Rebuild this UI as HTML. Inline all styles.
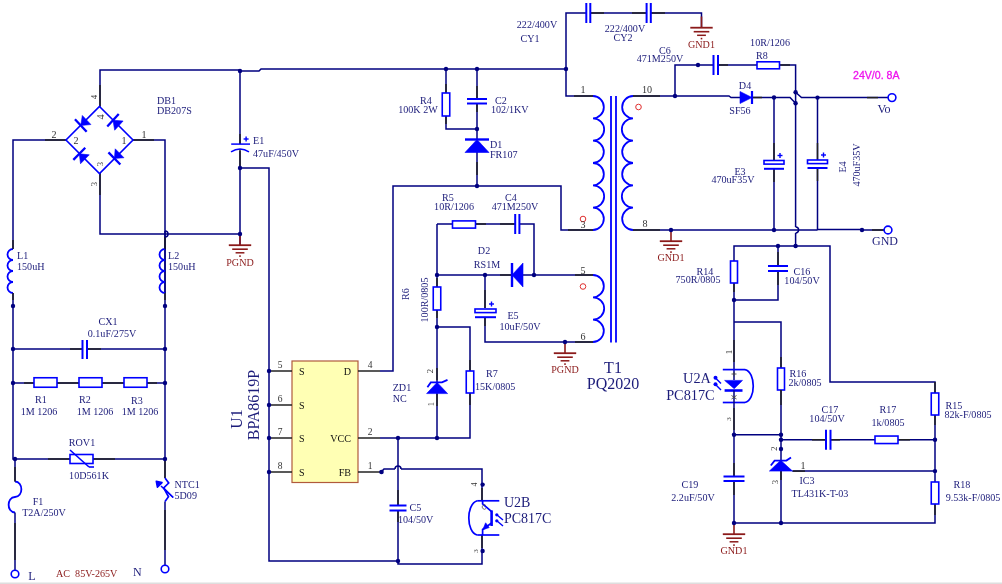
<!DOCTYPE html>
<html><head><meta charset="utf-8"><style>
html,body{margin:0;padding:0;background:#fff;width:1002px;height:584px;overflow:hidden}
svg{display:block;will-change:transform}
</style></head><body>
<svg width="1002" height="584" viewBox="0 0 1002 584">
<rect x="0" y="0" width="1002" height="584" fill="#fff"/>
<rect x="0" y="582.5" width="1002" height="1.5" fill="#dedede"/>
<polyline points="100,107 100,70 240,70 240,71 259,71 261,69 566,69" fill="none" stroke="#000080" stroke-width="1.5" stroke-linejoin="miter"/>
<line x1="100" y1="85" x2="100" y2="106" stroke="#222222" stroke-width="1.5" stroke-linecap="butt"/>
<polyline points="66,140 13,140 13,249" fill="none" stroke="#000080" stroke-width="1.5" stroke-linejoin="miter"/>
<line x1="45" y1="140" x2="66" y2="140" stroke="#222222" stroke-width="1.5" stroke-linecap="butt"/>
<polyline points="133,140 165,140 165,249" fill="none" stroke="#000080" stroke-width="1.5" stroke-linejoin="miter"/>
<line x1="133" y1="140" x2="154" y2="140" stroke="#222222" stroke-width="1.5" stroke-linecap="butt"/>
<polyline points="100,173 100,234 240,234" fill="none" stroke="#000080" stroke-width="1.5" stroke-linejoin="miter"/>
<line x1="100" y1="173" x2="100" y2="195" stroke="#222222" stroke-width="1.5" stroke-linecap="butt"/>
<polygon points="99.5,106.5 133,140 99.5,173.5 66,140" fill="none" stroke="#0000ff" stroke-width="1.6"/>
<polygon points="82.3,115.46 90.9,124.54 80.8,125.5" fill="#0000ff" stroke="#0000ff" stroke-width="0.6"/>
<line x1="74.95" y1="119.33" x2="86.65" y2="131.67" stroke="#0000ff" stroke-width="2.3" stroke-linecap="butt"/>
<polygon points="123.12,120.99 114.68,130.21 113,120.2" fill="#0000ff" stroke="#0000ff" stroke-width="0.6"/>
<line x1="118.74" y1="113.93" x2="107.26" y2="126.47" stroke="#0000ff" stroke-width="2.3" stroke-linecap="butt"/>
<polygon points="89.28,154.84 80.52,163.76 79.3,153.8" fill="#0000ff" stroke="#0000ff" stroke-width="0.6"/>
<line x1="85.26" y1="147.74" x2="73.34" y2="159.86" stroke="#0000ff" stroke-width="2.3" stroke-linecap="butt"/>
<polygon points="115.22,148.84 123.98,157.76 114.4,158.4" fill="#0000ff" stroke="#0000ff" stroke-width="0.6"/>
<line x1="108.45" y1="152.33" x2="120.35" y2="164.47" stroke="#0000ff" stroke-width="2.3" stroke-linecap="butt"/>
<polyline points="13,293 13,459 15,459 15,481.5" fill="none" stroke="#000080" stroke-width="1.5" stroke-linejoin="miter"/>
<path d="M13,249 A5.5,5.5 0 0 0 13,260 A5.5,5.5 0 0 0 13,271 A5.5,5.5 0 0 0 13,282 A5.5,5.5 0 0 0 13,293" fill="none" stroke="#0000ff" stroke-width="1.8"/>
<line x1="13" y1="240" x2="13" y2="249" stroke="#222222" stroke-width="1.5" stroke-linecap="butt"/>
<polyline points="165,293 165,231" fill="none" stroke="#000080" stroke-width="1.5" stroke-linejoin="miter"/>
<polyline points="165,237 165,478" fill="none" stroke="#000080" stroke-width="1.5" stroke-linejoin="miter"/>
<path d="M165,249 A5.5,5.5 0 0 0 165,260 A5.5,5.5 0 0 0 165,271 A5.5,5.5 0 0 0 165,282 A5.5,5.5 0 0 0 165,293" fill="none" stroke="#0000ff" stroke-width="1.8"/>
<line x1="165" y1="237" x2="165" y2="249" stroke="#222222" stroke-width="1.5" stroke-linecap="butt"/>
<path d="M165,231 A3,3 0 0 1 165,237" fill="none" stroke="#000080" stroke-width="1.5"/>
<line x1="13" y1="293" x2="13" y2="300" stroke="#222222" stroke-width="1.5" stroke-linecap="butt"/>
<line x1="165" y1="293" x2="165" y2="300" stroke="#222222" stroke-width="1.5" stroke-linecap="butt"/>
<polyline points="13,349 82,349" fill="none" stroke="#000080" stroke-width="1.5" stroke-linejoin="miter"/>
<polyline points="87,349 165,349" fill="none" stroke="#000080" stroke-width="1.5" stroke-linejoin="miter"/>
<line x1="70" y1="349" x2="82" y2="349" stroke="#222222" stroke-width="1.5" stroke-linecap="butt"/>
<line x1="87" y1="349" x2="101" y2="349" stroke="#222222" stroke-width="1.5" stroke-linecap="butt"/>
<line x1="82.5" y1="340" x2="82.5" y2="359" stroke="#0000ff" stroke-width="2" stroke-linecap="butt"/>
<line x1="87" y1="340" x2="87" y2="359" stroke="#0000ff" stroke-width="2" stroke-linecap="butt"/>
<polyline points="13,383 165,383" fill="none" stroke="#000080" stroke-width="1.5" stroke-linejoin="miter"/>
<line x1="24" y1="383" x2="34" y2="383" stroke="#222222" stroke-width="1.5" stroke-linecap="butt"/>
<line x1="57" y1="383" x2="79" y2="383" stroke="#222222" stroke-width="1.5" stroke-linecap="butt"/>
<line x1="102" y1="383" x2="124" y2="383" stroke="#222222" stroke-width="1.5" stroke-linecap="butt"/>
<line x1="147" y1="383" x2="157" y2="383" stroke="#222222" stroke-width="1.5" stroke-linecap="butt"/>
<rect x="34" y="377.75" width="23" height="9.5" fill="#fff" stroke="#0000ff" stroke-width="1.6"/>
<rect x="79" y="377.75" width="23" height="9.5" fill="#fff" stroke="#0000ff" stroke-width="1.6"/>
<rect x="124" y="377.75" width="23" height="9.5" fill="#fff" stroke="#0000ff" stroke-width="1.6"/>
<polyline points="15,459 165,459" fill="none" stroke="#000080" stroke-width="1.5" stroke-linejoin="miter"/>
<line x1="48" y1="459" x2="70" y2="459" stroke="#222222" stroke-width="1.5" stroke-linecap="butt"/>
<line x1="93" y1="459" x2="115" y2="459" stroke="#222222" stroke-width="1.5" stroke-linecap="butt"/>
<rect x="70" y="454.5" width="23" height="9" fill="#fff" stroke="#0000ff" stroke-width="1.6"/>
<line x1="70" y1="450" x2="89" y2="467" stroke="#0000ff" stroke-width="1.6" stroke-linecap="butt"/>
<line x1="89" y1="467" x2="94" y2="467" stroke="#0000ff" stroke-width="1.6" stroke-linecap="butt"/>
<path d="M15,481.5 C23.5,481.5 23.5,497 15,497 C6.5,497 6.5,512.5 15,512.5" fill="none" stroke="#0000ff" stroke-width="1.8"/>
<polyline points="15,512.5 15,570" fill="none" stroke="#000080" stroke-width="1.5" stroke-linejoin="miter"/>
<line x1="15" y1="523" x2="15" y2="560" stroke="#222222" stroke-width="1.5" stroke-linecap="butt"/>
<circle cx="15" cy="574" r="3.8" fill="#fff" stroke="#0000ff" stroke-width="1.6"/>
<line x1="15" y1="467" x2="15" y2="481.5" stroke="#222222" stroke-width="1.5" stroke-linecap="butt"/>
<polyline points="165,501.5 165,565" fill="none" stroke="#000080" stroke-width="1.5" stroke-linejoin="miter"/>
<line x1="165" y1="459" x2="165" y2="478" stroke="#222222" stroke-width="1.5" stroke-linecap="butt"/>
<line x1="165" y1="510" x2="165" y2="550" stroke="#222222" stroke-width="1.5" stroke-linecap="butt"/>
<polyline points="165,478 168.7,483 163.7,488 168.5,496.8 165,501.5" fill="none" stroke="#0000ff" stroke-width="1.7" stroke-linejoin="miter"/>
<line x1="163.7" y1="488" x2="173.2" y2="497.5" stroke="#0000ff" stroke-width="1.4" stroke-linecap="butt"/>
<line x1="173.2" y1="497.5" x2="161" y2="486" stroke="#0000ff" stroke-width="1.5" stroke-linecap="butt"/>
<polygon points="156.3,481.3 162,482.6 157.4,487.2" fill="#0000ff" stroke="#0000ff" stroke-width="1.6" stroke-linejoin="round"/>
<circle cx="165" cy="569" r="3.8" fill="#fff" stroke="#0000ff" stroke-width="1.6"/>
<polyline points="240,71 240,144" fill="none" stroke="#000080" stroke-width="1.5" stroke-linejoin="miter"/>
<polyline points="240,151 240,234 240,246" fill="none" stroke="#000080" stroke-width="1.5" stroke-linejoin="miter"/>
<polyline points="240,168 269,168 269,561 398,561" fill="none" stroke="#000080" stroke-width="1.5" stroke-linejoin="miter"/>
<line x1="240" y1="134" x2="240" y2="144" stroke="#222222" stroke-width="1.5" stroke-linecap="butt"/>
<line x1="240" y1="149" x2="240" y2="168" stroke="#222222" stroke-width="1.5" stroke-linecap="butt"/>
<line x1="231.2" y1="144.1" x2="250" y2="144.1" stroke="#0000ff" stroke-width="1.5" stroke-linecap="butt"/>
<path d="M231,151.8 Q240,146 249,151.8" fill="none" stroke="#0000ff" stroke-width="1.5"/>
<line x1="243.6" y1="139" x2="248.6" y2="139" stroke="#0000ff" stroke-width="1.4" stroke-linecap="butt"/>
<line x1="246.1" y1="136.5" x2="246.1" y2="141.5" stroke="#0000ff" stroke-width="1.4" stroke-linecap="butt"/>
<line x1="240" y1="234" x2="240" y2="245" stroke="#8b1a1a" stroke-width="1.6" stroke-linecap="butt"/>
<line x1="228.8" y1="245.2" x2="251.2" y2="245.2" stroke="#8b1a1a" stroke-width="1.8" stroke-linecap="butt"/>
<line x1="232.2" y1="249.2" x2="247.8" y2="249.2" stroke="#8b1a1a" stroke-width="1.6" stroke-linecap="butt"/>
<line x1="235.6" y1="252.8" x2="244.4" y2="252.8" stroke="#8b1a1a" stroke-width="1.5" stroke-linecap="butt"/>
<rect x="239.2" y="255.3" width="1.6" height="1.6" fill="#8b1a1a"/>
<rect x="292" y="361" width="66" height="121.5" fill="#ffffb4" stroke="#b05a3c" stroke-width="1.2"/>
<line x1="269" y1="371" x2="292" y2="371" stroke="#222222" stroke-width="1.5" stroke-linecap="butt"/>
<line x1="269" y1="405" x2="292" y2="405" stroke="#222222" stroke-width="1.5" stroke-linecap="butt"/>
<line x1="269" y1="438" x2="292" y2="438" stroke="#222222" stroke-width="1.5" stroke-linecap="butt"/>
<line x1="269" y1="472" x2="292" y2="472" stroke="#222222" stroke-width="1.5" stroke-linecap="butt"/>
<line x1="358" y1="371" x2="380" y2="371" stroke="#222222" stroke-width="1.5" stroke-linecap="butt"/>
<line x1="358" y1="438" x2="380" y2="438" stroke="#222222" stroke-width="1.5" stroke-linecap="butt"/>
<line x1="358" y1="472" x2="380" y2="472" stroke="#222222" stroke-width="1.5" stroke-linecap="butt"/>
<polyline points="380,371 393,371 393,186 561,186 561,230 593,230" fill="none" stroke="#000080" stroke-width="1.5" stroke-linejoin="miter"/>
<line x1="568" y1="230" x2="593" y2="230" stroke="#222222" stroke-width="1.5" stroke-linecap="butt"/>
<polyline points="380,438 470,438 470,393" fill="none" stroke="#000080" stroke-width="1.5" stroke-linejoin="miter"/>
<polyline points="470,371 470,327 437,327" fill="none" stroke="#000080" stroke-width="1.5" stroke-linejoin="miter"/>
<line x1="470" y1="393" x2="470" y2="405" stroke="#222222" stroke-width="1.5" stroke-linecap="butt"/>
<line x1="470" y1="360" x2="470" y2="371" stroke="#222222" stroke-width="1.5" stroke-linecap="butt"/>
<rect x="466.25" y="371" width="7.5" height="22" fill="#fff" stroke="#0000ff" stroke-width="1.6"/>
<polyline points="437,224 437,287" fill="none" stroke="#000080" stroke-width="1.5" stroke-linejoin="miter"/>
<polyline points="437,310 437,438" fill="none" stroke="#000080" stroke-width="1.5" stroke-linejoin="miter"/>
<line x1="437" y1="278" x2="437" y2="287" stroke="#222222" stroke-width="1.5" stroke-linecap="butt"/>
<line x1="437" y1="310" x2="437" y2="318" stroke="#222222" stroke-width="1.5" stroke-linecap="butt"/>
<rect x="433.25" y="287" width="7.5" height="23" fill="#fff" stroke="#0000ff" stroke-width="1.6"/>
<line x1="437" y1="368" x2="437" y2="380" stroke="#222222" stroke-width="1.5" stroke-linecap="butt"/>
<line x1="437" y1="394" x2="437" y2="406" stroke="#222222" stroke-width="1.5" stroke-linecap="butt"/>
<polygon points="426.6,393.6 447.6,393.6 437.1,382.4" fill="#0000ff" stroke="#0000ff" stroke-width="0.6"/>
<polyline points="427.4,387.2 430.8,382.4 442,382.4 447.5,379.9" fill="none" stroke="#0000ff" stroke-width="1.8" stroke-linejoin="miter"/>
<text x="0" y="0" style="font-family:&quot;Liberation Serif&quot;" font-size="8.5" fill="#333333" text-anchor="middle" font-weight="normal" transform="translate(433 371) rotate(-90)">2</text>
<text x="0" y="0" style="font-family:&quot;Liberation Serif&quot;" font-size="8.5" fill="#333333" text-anchor="middle" font-weight="normal" transform="translate(434 404) rotate(-90)">1</text>
<polyline points="437,224 453,224" fill="none" stroke="#000080" stroke-width="1.5" stroke-linejoin="miter"/>
<polyline points="476,224 515,224" fill="none" stroke="#000080" stroke-width="1.5" stroke-linejoin="miter"/>
<polyline points="519.5,224 534,224 534,275" fill="none" stroke="#000080" stroke-width="1.5" stroke-linejoin="miter"/>
<line x1="476" y1="224" x2="486" y2="224" stroke="#222222" stroke-width="1.5" stroke-linecap="butt"/>
<line x1="500" y1="224" x2="515" y2="224" stroke="#222222" stroke-width="1.5" stroke-linecap="butt"/>
<rect x="452.5" y="220.9" width="23" height="7.2" fill="#fff" stroke="#0000ff" stroke-width="1.6"/>
<line x1="515.2" y1="214" x2="515.2" y2="234" stroke="#0000ff" stroke-width="2" stroke-linecap="butt"/>
<line x1="519.4" y1="214" x2="519.4" y2="234" stroke="#0000ff" stroke-width="2" stroke-linecap="butt"/>
<polyline points="593,275 523,275" fill="none" stroke="#000080" stroke-width="1.5" stroke-linejoin="miter"/>
<polyline points="512,275 437,275" fill="none" stroke="#000080" stroke-width="1.5" stroke-linejoin="miter"/>
<line x1="575" y1="275" x2="593" y2="275" stroke="#222222" stroke-width="1.5" stroke-linecap="butt"/>
<line x1="500" y1="275" x2="512" y2="275" stroke="#222222" stroke-width="1.5" stroke-linecap="butt"/>
<polygon points="523,263 523,287 512,275" fill="#0000ff" stroke="#0000ff" stroke-width="0.6"/>
<line x1="512" y1="263" x2="512" y2="287" stroke="#0000ff" stroke-width="2.4" stroke-linecap="butt"/>
<polyline points="485,275 485,308" fill="none" stroke="#000080" stroke-width="1.5" stroke-linejoin="miter"/>
<polyline points="485,317 485,342 593,342" fill="none" stroke="#000080" stroke-width="1.5" stroke-linejoin="miter"/>
<line x1="485" y1="290" x2="485" y2="308" stroke="#222222" stroke-width="1.5" stroke-linecap="butt"/>
<line x1="485" y1="317" x2="485" y2="326" stroke="#222222" stroke-width="1.5" stroke-linecap="butt"/>
<line x1="575" y1="342" x2="593" y2="342" stroke="#222222" stroke-width="1.5" stroke-linecap="butt"/>
<rect x="475" y="309" width="21" height="3.6" fill="#fff" stroke="#0000ff" stroke-width="1.6"/>
<line x1="475" y1="317.2" x2="496" y2="317.2" stroke="#0000ff" stroke-width="2" stroke-linecap="butt"/>
<line x1="489" y1="304" x2="494" y2="304" stroke="#0000ff" stroke-width="1.4" stroke-linecap="butt"/>
<line x1="491.5" y1="301.5" x2="491.5" y2="306.5" stroke="#0000ff" stroke-width="1.4" stroke-linecap="butt"/>
<line x1="565" y1="342" x2="565" y2="353" stroke="#8b1a1a" stroke-width="1.6" stroke-linecap="butt"/>
<line x1="553.8" y1="353.2" x2="576.2" y2="353.2" stroke="#8b1a1a" stroke-width="1.8" stroke-linecap="butt"/>
<line x1="557.2" y1="357.2" x2="572.8" y2="357.2" stroke="#8b1a1a" stroke-width="1.6" stroke-linecap="butt"/>
<line x1="560.6" y1="360.8" x2="569.4" y2="360.8" stroke="#8b1a1a" stroke-width="1.5" stroke-linecap="butt"/>
<rect x="564.2" y="363.3" width="1.6" height="1.6" fill="#8b1a1a"/>
<polyline points="380,472 381,472 384,469 395,469" fill="none" stroke="#000080" stroke-width="1.5" stroke-linejoin="miter"/>
<path d="M395,469 A3,3 0 0 1 401,469" fill="none" stroke="#000080" stroke-width="1.5"/>
<polyline points="401,469 482,469 482,501" fill="none" stroke="#000080" stroke-width="1.5" stroke-linejoin="miter"/>
<line x1="482" y1="488" x2="482" y2="501" stroke="#222222" stroke-width="1.5" stroke-linecap="butt"/>
<circle cx="381.5" cy="472" r="2.3" fill="#000080"/>
<polyline points="398,438 398,505" fill="none" stroke="#000080" stroke-width="1.5" stroke-linejoin="miter"/>
<polyline points="398,510 398,561 398,564 482,564 482,535" fill="none" stroke="#000080" stroke-width="1.5" stroke-linejoin="miter"/>
<line x1="398" y1="490" x2="398" y2="505" stroke="#222222" stroke-width="1.5" stroke-linecap="butt"/>
<line x1="398" y1="510" x2="398" y2="522" stroke="#222222" stroke-width="1.5" stroke-linecap="butt"/>
<line x1="482" y1="535" x2="482" y2="548" stroke="#222222" stroke-width="1.5" stroke-linecap="butt"/>
<line x1="389.5" y1="505.5" x2="406.5" y2="505.5" stroke="#0000ff" stroke-width="2" stroke-linecap="butt"/>
<line x1="389.5" y1="510.5" x2="406.5" y2="510.5" stroke="#0000ff" stroke-width="2" stroke-linecap="butt"/>
<polyline points="446,69 446,93" fill="none" stroke="#000080" stroke-width="1.5" stroke-linejoin="miter"/>
<polyline points="446,116 446,129 477,129" fill="none" stroke="#000080" stroke-width="1.5" stroke-linejoin="miter"/>
<polyline points="477,69 477,99" fill="none" stroke="#000080" stroke-width="1.5" stroke-linejoin="miter"/>
<polyline points="477,103 477,139" fill="none" stroke="#000080" stroke-width="1.5" stroke-linejoin="miter"/>
<polyline points="477,152 477,186" fill="none" stroke="#000080" stroke-width="1.5" stroke-linejoin="miter"/>
<line x1="446" y1="84" x2="446" y2="93" stroke="#222222" stroke-width="1.5" stroke-linecap="butt"/>
<line x1="446" y1="116" x2="446" y2="124" stroke="#222222" stroke-width="1.5" stroke-linecap="butt"/>
<line x1="477" y1="86" x2="477" y2="99" stroke="#222222" stroke-width="1.5" stroke-linecap="butt"/>
<line x1="477" y1="103" x2="477" y2="112" stroke="#222222" stroke-width="1.5" stroke-linecap="butt"/>
<line x1="477" y1="162" x2="477" y2="175" stroke="#222222" stroke-width="1.5" stroke-linecap="butt"/>
<rect x="442.25" y="93" width="7.5" height="23" fill="#fff" stroke="#0000ff" stroke-width="1.6"/>
<line x1="467" y1="99" x2="487" y2="99" stroke="#0000ff" stroke-width="2" stroke-linecap="butt"/>
<line x1="467" y1="103.5" x2="487" y2="103.5" stroke="#0000ff" stroke-width="2" stroke-linecap="butt"/>
<polygon points="489,152.5 465,152.5 477,139.5" fill="#0000ff" stroke="#0000ff" stroke-width="0.6"/>
<line x1="489" y1="139.5" x2="465" y2="139.5" stroke="#0000ff" stroke-width="2.4" stroke-linecap="butt"/>
<polyline points="566,69 566,96 593,96" fill="none" stroke="#000080" stroke-width="1.5" stroke-linejoin="miter"/>
<line x1="574" y1="96" x2="593" y2="96" stroke="#222222" stroke-width="1.5" stroke-linecap="butt"/>
<path d="M593,96 A11.17,11.17 0 0 1 593,118.33 A11.17,11.17 0 0 1 593,140.67 A11.17,11.17 0 0 1 593,163 A11.17,11.17 0 0 1 593,185.33 A11.17,11.17 0 0 1 593,207.67 A11.17,11.17 0 0 1 593,230" fill="none" stroke="#0000ff" stroke-width="1.8"/>
<path d="M593,275 A11.17,11.17 0 0 1 593,297.33 A11.17,11.17 0 0 1 593,319.67 A11.17,11.17 0 0 1 593,342" fill="none" stroke="#0000ff" stroke-width="1.8"/>
<path d="M633,96 A11.17,11.17 0 0 0 633,118.33 A11.17,11.17 0 0 0 633,140.67 A11.17,11.17 0 0 0 633,163 A11.17,11.17 0 0 0 633,185.33 A11.17,11.17 0 0 0 633,207.67 A11.17,11.17 0 0 0 633,230" fill="none" stroke="#0000ff" stroke-width="1.8"/>
<line x1="611" y1="96" x2="611" y2="342.5" stroke="#0000ff" stroke-width="1.8" stroke-linecap="butt"/>
<line x1="616" y1="96" x2="616" y2="342.5" stroke="#0000ff" stroke-width="1.8" stroke-linecap="butt"/>
<circle cx="583" cy="219" r="2.8" fill="#fff" stroke="#e03030" stroke-width="1"/>
<circle cx="583" cy="286.5" r="2.8" fill="#fff" stroke="#e03030" stroke-width="1"/>
<circle cx="638.5" cy="107" r="2.8" fill="#fff" stroke="#e03030" stroke-width="1"/>
<polyline points="566,69 566,13 586.3,13" fill="none" stroke="#000080" stroke-width="1.5" stroke-linejoin="miter"/>
<polyline points="590.3,13 646.6,13" fill="none" stroke="#000080" stroke-width="1.5" stroke-linejoin="miter"/>
<polyline points="650.8,13 701.5,13 701.5,27" fill="none" stroke="#000080" stroke-width="1.5" stroke-linejoin="miter"/>
<line x1="590.3" y1="13" x2="604" y2="13" stroke="#222222" stroke-width="1.5" stroke-linecap="butt"/>
<line x1="632" y1="13" x2="646.6" y2="13" stroke="#222222" stroke-width="1.5" stroke-linecap="butt"/>
<line x1="650.8" y1="13" x2="665" y2="13" stroke="#222222" stroke-width="1.5" stroke-linecap="butt"/>
<line x1="586.3" y1="3" x2="586.3" y2="23" stroke="#0000ff" stroke-width="2" stroke-linecap="butt"/>
<line x1="590.3" y1="3" x2="590.3" y2="23" stroke="#0000ff" stroke-width="2" stroke-linecap="butt"/>
<line x1="646.6" y1="3" x2="646.6" y2="23" stroke="#0000ff" stroke-width="2" stroke-linecap="butt"/>
<line x1="650.8" y1="3" x2="650.8" y2="23" stroke="#0000ff" stroke-width="2" stroke-linecap="butt"/>
<line x1="701.5" y1="16.5" x2="701.5" y2="27.5" stroke="#8b1a1a" stroke-width="1.6" stroke-linecap="butt"/>
<line x1="690.3" y1="27.7" x2="712.7" y2="27.7" stroke="#8b1a1a" stroke-width="1.8" stroke-linecap="butt"/>
<line x1="693.7" y1="31.7" x2="709.3" y2="31.7" stroke="#8b1a1a" stroke-width="1.6" stroke-linecap="butt"/>
<line x1="697.1" y1="35.3" x2="705.9" y2="35.3" stroke="#8b1a1a" stroke-width="1.5" stroke-linecap="butt"/>
<rect x="700.7" y="37.8" width="1.6" height="1.6" fill="#8b1a1a"/>
<polyline points="633,96 675,96 729,96 731,97.5 740,97.5" fill="none" stroke="#000080" stroke-width="1.5" stroke-linejoin="miter"/>
<line x1="633" y1="96" x2="660" y2="96" stroke="#222222" stroke-width="1.5" stroke-linecap="butt"/>
<polyline points="752,97.5 790,97.5 795.6,103.3" fill="none" stroke="#000080" stroke-width="1.5" stroke-linejoin="miter"/>
<polyline points="795.6,92.2 801.5,97.6 888,97.6" fill="none" stroke="#000080" stroke-width="1.5" stroke-linejoin="miter"/>
<line x1="752" y1="97.5" x2="762" y2="97.5" stroke="#222222" stroke-width="1.5" stroke-linecap="butt"/>
<line x1="867" y1="97.6" x2="878" y2="97.6" stroke="#222222" stroke-width="1.5" stroke-linecap="butt"/>
<circle cx="892" cy="97.6" r="3.9" fill="#fff" stroke="#0000ff" stroke-width="1.6"/>
<polygon points="740,103.5 740,91.5 752,97.5" fill="#0000ff" stroke="#0000ff" stroke-width="0.6"/>
<line x1="752" y1="104" x2="752" y2="91" stroke="#0000ff" stroke-width="2.2" stroke-linecap="butt"/>
<polyline points="675,96 675,65 713,65" fill="none" stroke="#000080" stroke-width="1.5" stroke-linejoin="miter"/>
<polyline points="718,65 757,65" fill="none" stroke="#000080" stroke-width="1.5" stroke-linejoin="miter"/>
<polyline points="780,65 795.6,65 795.6,227" fill="none" stroke="#000080" stroke-width="1.5" stroke-linejoin="miter"/>
<polyline points="795.6,233 795.6,246" fill="none" stroke="#000080" stroke-width="1.5" stroke-linejoin="miter"/>
<line x1="718" y1="65" x2="728" y2="65" stroke="#222222" stroke-width="1.5" stroke-linecap="butt"/>
<line x1="780" y1="65" x2="790" y2="65" stroke="#222222" stroke-width="1.5" stroke-linecap="butt"/>
<line x1="713.5" y1="55" x2="713.5" y2="75" stroke="#0000ff" stroke-width="2" stroke-linecap="butt"/>
<line x1="718" y1="55" x2="718" y2="75" stroke="#0000ff" stroke-width="2" stroke-linecap="butt"/>
<rect x="757" y="61.8" width="22.5" height="7" fill="#fff" stroke="#0000ff" stroke-width="1.6"/>
<polyline points="774,97.5 774,161" fill="none" stroke="#000080" stroke-width="1.5" stroke-linejoin="miter"/>
<polyline points="774,169 774,230" fill="none" stroke="#000080" stroke-width="1.5" stroke-linejoin="miter"/>
<line x1="774" y1="143" x2="774" y2="161" stroke="#222222" stroke-width="1.5" stroke-linecap="butt"/>
<line x1="774" y1="169" x2="774" y2="182" stroke="#222222" stroke-width="1.5" stroke-linecap="butt"/>
<rect x="764" y="160.5" width="20" height="3.6" fill="#fff" stroke="#0000ff" stroke-width="1.6"/>
<line x1="764" y1="168.8" x2="784" y2="168.8" stroke="#0000ff" stroke-width="2" stroke-linecap="butt"/>
<line x1="777.5" y1="155.5" x2="782.5" y2="155.5" stroke="#0000ff" stroke-width="1.4" stroke-linecap="butt"/>
<line x1="780" y1="153" x2="780" y2="158" stroke="#0000ff" stroke-width="1.4" stroke-linecap="butt"/>
<polyline points="817.5,97.6 817.5,160" fill="none" stroke="#000080" stroke-width="1.5" stroke-linejoin="miter"/>
<polyline points="817.5,168 817.5,229.5 862,229.5" fill="none" stroke="#000080" stroke-width="1.5" stroke-linejoin="miter"/>
<line x1="817.5" y1="143" x2="817.5" y2="160" stroke="#222222" stroke-width="1.5" stroke-linecap="butt"/>
<line x1="817.5" y1="168" x2="817.5" y2="181" stroke="#222222" stroke-width="1.5" stroke-linecap="butt"/>
<rect x="807.5" y="160" width="20" height="3.6" fill="#fff" stroke="#0000ff" stroke-width="1.6"/>
<line x1="807.5" y1="168" x2="827.5" y2="168" stroke="#0000ff" stroke-width="2" stroke-linecap="butt"/>
<line x1="821" y1="155" x2="826" y2="155" stroke="#0000ff" stroke-width="1.4" stroke-linecap="butt"/>
<line x1="823.5" y1="152.5" x2="823.5" y2="157.5" stroke="#0000ff" stroke-width="1.4" stroke-linecap="butt"/>
<polyline points="862,230 884,230" fill="none" stroke="#000080" stroke-width="1.5" stroke-linejoin="miter"/>
<line x1="872" y1="230" x2="884" y2="230" stroke="#222222" stroke-width="1.5" stroke-linecap="butt"/>
<circle cx="888" cy="230" r="3.9" fill="#fff" stroke="#0000ff" stroke-width="1.6"/>
<polyline points="633,230 817.5,230" fill="none" stroke="#000080" stroke-width="1.5" stroke-linejoin="miter"/>
<line x1="633" y1="230" x2="660" y2="230" stroke="#222222" stroke-width="1.5" stroke-linecap="butt"/>
<path d="M795.6,227 A3,3 0 0 1 795.6,233" fill="none" stroke="#000080" stroke-width="1.5"/>
<line x1="671" y1="230" x2="671" y2="241" stroke="#8b1a1a" stroke-width="1.6" stroke-linecap="butt"/>
<line x1="659.8" y1="241.2" x2="682.2" y2="241.2" stroke="#8b1a1a" stroke-width="1.8" stroke-linecap="butt"/>
<line x1="663.2" y1="245.2" x2="678.8" y2="245.2" stroke="#8b1a1a" stroke-width="1.6" stroke-linecap="butt"/>
<line x1="666.6" y1="248.8" x2="675.4" y2="248.8" stroke="#8b1a1a" stroke-width="1.5" stroke-linecap="butt"/>
<rect x="670.2" y="251.3" width="1.6" height="1.6" fill="#8b1a1a"/>
<polyline points="734,261 734,246 830,246 830,382 935,382 935,393" fill="none" stroke="#000080" stroke-width="1.5" stroke-linejoin="miter"/>
<line x1="935" y1="382" x2="935" y2="393" stroke="#222222" stroke-width="1.5" stroke-linecap="butt"/>
<polyline points="734,283 734,300 778,300 778,271" fill="none" stroke="#000080" stroke-width="1.5" stroke-linejoin="miter"/>
<polyline points="778,266 778,246" fill="none" stroke="#000080" stroke-width="1.5" stroke-linejoin="miter"/>
<line x1="734" y1="283" x2="734" y2="292" stroke="#222222" stroke-width="1.5" stroke-linecap="butt"/>
<line x1="778" y1="271" x2="778" y2="285" stroke="#222222" stroke-width="1.5" stroke-linecap="butt"/>
<line x1="778" y1="252" x2="778" y2="266" stroke="#222222" stroke-width="1.5" stroke-linecap="butt"/>
<rect x="730.5" y="261" width="7" height="22" fill="#fff" stroke="#0000ff" stroke-width="1.6"/>
<line x1="768" y1="266" x2="788" y2="266" stroke="#0000ff" stroke-width="2" stroke-linecap="butt"/>
<line x1="768" y1="271" x2="788" y2="271" stroke="#0000ff" stroke-width="2" stroke-linecap="butt"/>
<polyline points="734,300 734,380" fill="none" stroke="#000080" stroke-width="1.5" stroke-linejoin="miter"/>
<polyline points="734,322 781,322 781,368" fill="none" stroke="#000080" stroke-width="1.5" stroke-linejoin="miter"/>
<line x1="781" y1="357" x2="781" y2="368" stroke="#222222" stroke-width="1.5" stroke-linecap="butt"/>
<rect x="777.5" y="368" width="7" height="22" fill="#fff" stroke="#0000ff" stroke-width="1.6"/>
<polyline points="781,390 781,460" fill="none" stroke="#000080" stroke-width="1.5" stroke-linejoin="miter"/>
<line x1="781" y1="390" x2="781" y2="405" stroke="#222222" stroke-width="1.5" stroke-linecap="butt"/>
<line x1="734" y1="340" x2="734" y2="362" stroke="#222222" stroke-width="1.5" stroke-linecap="butt"/>
<polygon points="724.6,380.4 742.5,380.4 734.2,388.7" fill="#0000ff" stroke="#0000ff" stroke-width="0.6"/>
<line x1="724.6" y1="390.5" x2="742.5" y2="390.5" stroke="#0000ff" stroke-width="2.6" stroke-linecap="butt"/>
<polyline points="722.8,369.6 745,369.6" fill="none" stroke="#0000ff" stroke-width="1.7" stroke-linejoin="miter"/>
<polyline points="722.8,402.5 745,402.5" fill="none" stroke="#0000ff" stroke-width="1.7" stroke-linejoin="miter"/>
<path d="M745,369.6 C756,372 756,400 745,402.5" fill="none" stroke="#0000ff" stroke-width="1.7"/>
<line x1="715.5" y1="378" x2="721" y2="383.5" stroke="#0000ff" stroke-width="1.4" stroke-linecap="butt"/>
<line x1="715.5" y1="384.5" x2="721" y2="390" stroke="#0000ff" stroke-width="1.4" stroke-linecap="butt"/>
<circle cx="715.5" cy="377.8" r="2" fill="#0000ff"/>
<circle cx="715.5" cy="384.3" r="2" fill="#0000ff"/>
<polyline points="734,390.5 734,476.5" fill="none" stroke="#000080" stroke-width="1.5" stroke-linejoin="miter"/>
<polyline points="734,481 734,523" fill="none" stroke="#000080" stroke-width="1.5" stroke-linejoin="miter"/>
<line x1="734" y1="408" x2="734" y2="430" stroke="#222222" stroke-width="1.5" stroke-linecap="butt"/>
<line x1="734" y1="463" x2="734" y2="476" stroke="#222222" stroke-width="1.5" stroke-linecap="butt"/>
<line x1="734" y1="481" x2="734" y2="495" stroke="#222222" stroke-width="1.5" stroke-linecap="butt"/>
<line x1="723.5" y1="476.5" x2="744.5" y2="476.5" stroke="#0000ff" stroke-width="2" stroke-linecap="butt"/>
<line x1="723.5" y1="481" x2="744.5" y2="481" stroke="#0000ff" stroke-width="2" stroke-linecap="butt"/>
<polyline points="734,434.7 781,434.7" fill="none" stroke="#000080" stroke-width="1.5" stroke-linejoin="miter"/>
<polyline points="781,439.8 826,439.8" fill="none" stroke="#000080" stroke-width="1.5" stroke-linejoin="miter"/>
<polyline points="830.5,439.8 875,439.8" fill="none" stroke="#000080" stroke-width="1.5" stroke-linejoin="miter"/>
<polyline points="898,439.8 935,439.8" fill="none" stroke="#000080" stroke-width="1.5" stroke-linejoin="miter"/>
<line x1="812" y1="439.8" x2="826" y2="439.8" stroke="#222222" stroke-width="1.5" stroke-linecap="butt"/>
<line x1="830.5" y1="439.8" x2="840" y2="439.8" stroke="#222222" stroke-width="1.5" stroke-linecap="butt"/>
<line x1="898" y1="439.8" x2="910" y2="439.8" stroke="#222222" stroke-width="1.5" stroke-linecap="butt"/>
<line x1="826" y1="429.8" x2="826" y2="449.8" stroke="#0000ff" stroke-width="2" stroke-linecap="butt"/>
<line x1="830.5" y1="429.8" x2="830.5" y2="449.8" stroke="#0000ff" stroke-width="2" stroke-linecap="butt"/>
<rect x="875" y="436.05" width="23" height="7.5" fill="#fff" stroke="#0000ff" stroke-width="1.6"/>
<polyline points="935,415 935,482" fill="none" stroke="#000080" stroke-width="1.5" stroke-linejoin="miter"/>
<polyline points="935,504 935,523 734,523" fill="none" stroke="#000080" stroke-width="1.5" stroke-linejoin="miter"/>
<line x1="935" y1="415" x2="935" y2="425" stroke="#222222" stroke-width="1.5" stroke-linecap="butt"/>
<line x1="935" y1="504" x2="935" y2="515" stroke="#222222" stroke-width="1.5" stroke-linecap="butt"/>
<rect x="931.25" y="393" width="7.5" height="22" fill="#fff" stroke="#0000ff" stroke-width="1.6"/>
<rect x="931.25" y="482" width="7.5" height="22" fill="#fff" stroke="#0000ff" stroke-width="1.6"/>
<polyline points="781,471 781,523" fill="none" stroke="#000080" stroke-width="1.5" stroke-linejoin="miter"/>
<line x1="781" y1="460" x2="781" y2="480" stroke="#222222" stroke-width="1.5" stroke-linecap="butt"/>
<polyline points="792.5,471.1 935,471.1" fill="none" stroke="#000080" stroke-width="1.5" stroke-linejoin="miter"/>
<line x1="792.5" y1="471.1" x2="805" y2="471.1" stroke="#222222" stroke-width="1.5" stroke-linecap="butt"/>
<polygon points="769.4,471.1 792.5,471.1 780.7,460.3" fill="#0000ff" stroke="#0000ff" stroke-width="0.6"/>
<polyline points="770.8,465.5 774.6,460.6 786.4,460.6 791,457.5" fill="none" stroke="#0000ff" stroke-width="1.8" stroke-linejoin="miter"/>
<line x1="734" y1="523" x2="734" y2="534" stroke="#8b1a1a" stroke-width="1.6" stroke-linecap="butt"/>
<line x1="722.8" y1="534.2" x2="745.2" y2="534.2" stroke="#8b1a1a" stroke-width="1.8" stroke-linecap="butt"/>
<line x1="726.2" y1="538.2" x2="741.8" y2="538.2" stroke="#8b1a1a" stroke-width="1.6" stroke-linecap="butt"/>
<line x1="729.6" y1="541.8" x2="738.4" y2="541.8" stroke="#8b1a1a" stroke-width="1.5" stroke-linecap="butt"/>
<rect x="733.2" y="544.3" width="1.6" height="1.6" fill="#8b1a1a"/>
<polyline points="477.2,500.8 499.3,500.8" fill="none" stroke="#0000ff" stroke-width="1.7" stroke-linejoin="miter"/>
<polyline points="477.2,535 499.3,535" fill="none" stroke="#0000ff" stroke-width="1.7" stroke-linejoin="miter"/>
<path d="M477.2,500.8 C466,504 466,532 477.2,535" fill="none" stroke="#0000ff" stroke-width="1.7"/>
<polyline points="482.6,500.8 482.6,503.8 491.6,511.6" fill="none" stroke="#0000ff" stroke-width="1.7" stroke-linejoin="miter"/>
<line x1="491.6" y1="510.4" x2="491.6" y2="526" stroke="#0000ff" stroke-width="2.6" stroke-linecap="butt"/>
<polyline points="491.6,523 482.6,529.5 482.6,535" fill="none" stroke="#0000ff" stroke-width="1.7" stroke-linejoin="miter"/>
<polygon points="482.8,529.8 485.6,522.8 489.2,527.6" fill="#0000ff" stroke="#0000ff" stroke-width="0.6"/>
<line x1="503" y1="520" x2="496.8" y2="514.8" stroke="#0000ff" stroke-width="1.4" stroke-linecap="butt"/>
<line x1="503" y1="526" x2="496.8" y2="520.8" stroke="#0000ff" stroke-width="1.4" stroke-linecap="butt"/>
<circle cx="496.8" cy="514.8" r="1.6" fill="#0000ff"/>
<circle cx="496.8" cy="520.8" r="1.6" fill="#0000ff"/>
<circle cx="240" cy="71" r="2.2" fill="#000080"/>
<circle cx="240" cy="168" r="2.2" fill="#000080"/>
<circle cx="240" cy="234" r="2.2" fill="#000080"/>
<circle cx="446" cy="69" r="2.2" fill="#000080"/>
<circle cx="477" cy="69" r="2.2" fill="#000080"/>
<circle cx="566" cy="69" r="2.2" fill="#000080"/>
<circle cx="13" cy="306" r="2.2" fill="#000080"/>
<circle cx="165" cy="306" r="2.2" fill="#000080"/>
<circle cx="13" cy="349" r="2.2" fill="#000080"/>
<circle cx="165" cy="349" r="2.2" fill="#000080"/>
<circle cx="13" cy="383" r="2.2" fill="#000080"/>
<circle cx="165" cy="383" r="2.2" fill="#000080"/>
<circle cx="15" cy="459" r="2.2" fill="#000080"/>
<circle cx="165" cy="459" r="2.2" fill="#000080"/>
<circle cx="269" cy="371" r="2.2" fill="#000080"/>
<circle cx="269" cy="405" r="2.2" fill="#000080"/>
<circle cx="269" cy="438" r="2.2" fill="#000080"/>
<circle cx="269" cy="472" r="2.2" fill="#000080"/>
<circle cx="398" cy="438" r="2.2" fill="#000080"/>
<circle cx="437" cy="438" r="2.2" fill="#000080"/>
<circle cx="398" cy="561" r="2.2" fill="#000080"/>
<circle cx="477" cy="129" r="2.2" fill="#000080"/>
<circle cx="477" cy="186" r="2.2" fill="#000080"/>
<circle cx="437" cy="275" r="2.2" fill="#000080"/>
<circle cx="485" cy="275" r="2.2" fill="#000080"/>
<circle cx="534" cy="275" r="2.2" fill="#000080"/>
<circle cx="437" cy="327" r="2.2" fill="#000080"/>
<circle cx="565" cy="342" r="2.2" fill="#000080"/>
<circle cx="675" cy="96" r="2.2" fill="#000080"/>
<circle cx="698" cy="65" r="2.2" fill="#000080"/>
<circle cx="774" cy="97.5" r="2.2" fill="#000080"/>
<circle cx="817.5" cy="97.6" r="2.2" fill="#000080"/>
<circle cx="795.6" cy="92.2" r="2.2" fill="#000080"/>
<circle cx="795.6" cy="103.3" r="2.2" fill="#000080"/>
<circle cx="671" cy="230" r="2.2" fill="#000080"/>
<circle cx="774" cy="230" r="2.2" fill="#000080"/>
<circle cx="862" cy="230" r="2.2" fill="#000080"/>
<circle cx="795.6" cy="246" r="2.2" fill="#000080"/>
<circle cx="778" cy="246" r="2.2" fill="#000080"/>
<circle cx="734" cy="300" r="2.2" fill="#000080"/>
<circle cx="734" cy="434.7" r="2.2" fill="#000080"/>
<circle cx="781" cy="434.7" r="2.2" fill="#000080"/>
<circle cx="781" cy="439.8" r="2.2" fill="#000080"/>
<circle cx="935" cy="439.8" r="2.2" fill="#000080"/>
<circle cx="935" cy="471.1" r="2.2" fill="#000080"/>
<circle cx="734" cy="523" r="2.2" fill="#000080"/>
<circle cx="781" cy="523" r="2.2" fill="#000080"/>
<circle cx="482.6" cy="484.6" r="2.2" fill="#000080"/>
<circle cx="482.6" cy="551" r="2.2" fill="#000080"/>
<circle cx="781" cy="449" r="2.2" fill="#000080"/>
<text x="0" y="0" style="font-family:&quot;Liberation Serif&quot;" font-size="11" fill="#1c1c7a" text-anchor="start" font-weight="normal" transform="translate(157 104) scale(0.92 1)">DB1</text>
<text x="0" y="0" style="font-family:&quot;Liberation Serif&quot;" font-size="11" fill="#1c1c7a" text-anchor="start" font-weight="normal" transform="translate(157 114) scale(0.92 1)">DB207S</text>
<text x="0" y="0" style="font-family:&quot;Liberation Serif&quot;" font-size="9" fill="#333333" text-anchor="middle" font-weight="normal" transform="translate(97 97) rotate(-90)">4</text>
<text x="0" y="0" style="font-family:&quot;Liberation Serif&quot;" font-size="11" fill="#333333" text-anchor="middle" font-weight="normal" transform="translate(104 117) rotate(-90) scale(0.92 1)">4</text>
<text x="0" y="0" style="font-family:&quot;Liberation Serif&quot;" font-size="11" fill="#333333" text-anchor="middle" font-weight="normal" transform="translate(54 138) scale(0.92 1)">2</text>
<text x="0" y="0" style="font-family:&quot;Liberation Serif&quot;" font-size="11" fill="#333333" text-anchor="middle" font-weight="normal" transform="translate(76 144) scale(0.92 1)">2</text>
<text x="0" y="0" style="font-family:&quot;Liberation Serif&quot;" font-size="11" fill="#333333" text-anchor="middle" font-weight="normal" transform="translate(144 138) scale(0.92 1)">1</text>
<text x="0" y="0" style="font-family:&quot;Liberation Serif&quot;" font-size="11" fill="#333333" text-anchor="middle" font-weight="normal" transform="translate(124 144) scale(0.92 1)">1</text>
<text x="0" y="0" style="font-family:&quot;Liberation Serif&quot;" font-size="8.5" fill="#333333" text-anchor="middle" font-weight="normal" transform="translate(102.5 164) rotate(-90)">3</text>
<text x="0" y="0" style="font-family:&quot;Liberation Serif&quot;" font-size="8.5" fill="#333333" text-anchor="middle" font-weight="normal" transform="translate(96.5 184) rotate(-90)">3</text>
<text x="0" y="0" style="font-family:&quot;Liberation Serif&quot;" font-size="11" fill="#1c1c7a" text-anchor="start" font-weight="normal" transform="translate(17 259) scale(0.92 1)">L1</text>
<text x="0" y="0" style="font-family:&quot;Liberation Serif&quot;" font-size="11" fill="#1c1c7a" text-anchor="start" font-weight="normal" transform="translate(17 270) scale(0.92 1)">150uH</text>
<text x="0" y="0" style="font-family:&quot;Liberation Serif&quot;" font-size="11" fill="#1c1c7a" text-anchor="start" font-weight="normal" transform="translate(168 259) scale(0.92 1)">L2</text>
<text x="0" y="0" style="font-family:&quot;Liberation Serif&quot;" font-size="11" fill="#1c1c7a" text-anchor="start" font-weight="normal" transform="translate(168 270) scale(0.92 1)">150uH</text>
<text x="0" y="0" style="font-family:&quot;Liberation Serif&quot;" font-size="11" fill="#1c1c7a" text-anchor="middle" font-weight="normal" transform="translate(108 325) scale(0.92 1)">CX1</text>
<text x="0" y="0" style="font-family:&quot;Liberation Serif&quot;" font-size="11" fill="#1c1c7a" text-anchor="middle" font-weight="normal" transform="translate(112 337) scale(0.92 1)">0.1uF/275V</text>
<text x="0" y="0" style="font-family:&quot;Liberation Serif&quot;" font-size="11" fill="#1c1c7a" text-anchor="middle" font-weight="normal" transform="translate(41 403) scale(0.92 1)">R1</text>
<text x="0" y="0" style="font-family:&quot;Liberation Serif&quot;" font-size="11" fill="#1c1c7a" text-anchor="middle" font-weight="normal" transform="translate(39 415) scale(0.92 1)">1M 1206</text>
<text x="0" y="0" style="font-family:&quot;Liberation Serif&quot;" font-size="11" fill="#1c1c7a" text-anchor="middle" font-weight="normal" transform="translate(85 403) scale(0.92 1)">R2</text>
<text x="0" y="0" style="font-family:&quot;Liberation Serif&quot;" font-size="11" fill="#1c1c7a" text-anchor="middle" font-weight="normal" transform="translate(95 415) scale(0.92 1)">1M 1206</text>
<text x="0" y="0" style="font-family:&quot;Liberation Serif&quot;" font-size="11" fill="#1c1c7a" text-anchor="middle" font-weight="normal" transform="translate(137 404) scale(0.92 1)">R3</text>
<text x="0" y="0" style="font-family:&quot;Liberation Serif&quot;" font-size="11" fill="#1c1c7a" text-anchor="middle" font-weight="normal" transform="translate(140 415) scale(0.92 1)">1M 1206</text>
<text x="0" y="0" style="font-family:&quot;Liberation Serif&quot;" font-size="11" fill="#1c1c7a" text-anchor="middle" font-weight="normal" transform="translate(82 446) scale(0.92 1)">ROV1</text>
<text x="0" y="0" style="font-family:&quot;Liberation Serif&quot;" font-size="11" fill="#1c1c7a" text-anchor="middle" font-weight="normal" transform="translate(89 479) scale(0.92 1)">10D561K</text>
<text x="0" y="0" style="font-family:&quot;Liberation Serif&quot;" font-size="11" fill="#1c1c7a" text-anchor="middle" font-weight="normal" transform="translate(38 505) scale(0.92 1)">F1</text>
<text x="0" y="0" style="font-family:&quot;Liberation Serif&quot;" font-size="11" fill="#1c1c7a" text-anchor="middle" font-weight="normal" transform="translate(44 515.5) scale(0.92 1)">T2A/250V</text>
<text x="0" y="0" style="font-family:&quot;Liberation Serif&quot;" font-size="11" fill="#1c1c7a" text-anchor="start" font-weight="normal" transform="translate(174.5 487.7) scale(0.92 1)">NTC1</text>
<text x="0" y="0" style="font-family:&quot;Liberation Serif&quot;" font-size="11" fill="#1c1c7a" text-anchor="start" font-weight="normal" transform="translate(174.5 499.4) scale(0.92 1)">5D09</text>
<text x="0" y="0" style="font-family:&quot;Liberation Serif&quot;" font-size="12" fill="#1c1c7a" text-anchor="start" font-weight="normal" transform="translate(28.3 580)">L</text>
<text x="0" y="0" style="font-family:&quot;Liberation Serif&quot;" font-size="12" fill="#1c1c7a" text-anchor="start" font-weight="normal" transform="translate(133 576)">N</text>
<text x="0" y="0" style="font-family:&quot;Liberation Serif&quot;" font-size="11" fill="#8b1a1a" text-anchor="start" font-weight="normal" transform="translate(56 577) scale(0.92 1)">AC&#160;&#160;85V-265V</text>
<text x="0" y="0" style="font-family:&quot;Liberation Serif&quot;" font-size="11" fill="#1c1c7a" text-anchor="start" font-weight="normal" transform="translate(253 144) scale(0.92 1)">E1</text>
<text x="0" y="0" style="font-family:&quot;Liberation Serif&quot;" font-size="11" fill="#1c1c7a" text-anchor="start" font-weight="normal" transform="translate(253 157) scale(0.92 1)">47uF/450V</text>
<text x="0" y="0" style="font-family:&quot;Liberation Serif&quot;" font-size="11" fill="#8b1a1a" text-anchor="middle" font-weight="normal" transform="translate(240 266) scale(0.92 1)">PGND</text>
<text x="0" y="0" style="font-family:&quot;Liberation Serif&quot;" font-size="11" fill="#111" text-anchor="start" font-weight="normal" transform="translate(299 375) scale(0.92 1)">S</text>
<text x="0" y="0" style="font-family:&quot;Liberation Serif&quot;" font-size="11" fill="#111" text-anchor="start" font-weight="normal" transform="translate(299 409) scale(0.92 1)">S</text>
<text x="0" y="0" style="font-family:&quot;Liberation Serif&quot;" font-size="11" fill="#111" text-anchor="start" font-weight="normal" transform="translate(299 442) scale(0.92 1)">S</text>
<text x="0" y="0" style="font-family:&quot;Liberation Serif&quot;" font-size="11" fill="#111" text-anchor="start" font-weight="normal" transform="translate(299 476) scale(0.92 1)">S</text>
<text x="0" y="0" style="font-family:&quot;Liberation Serif&quot;" font-size="11" fill="#111" text-anchor="end" font-weight="normal" transform="translate(351 375) scale(0.92 1)">D</text>
<text x="0" y="0" style="font-family:&quot;Liberation Serif&quot;" font-size="11" fill="#111" text-anchor="end" font-weight="normal" transform="translate(351 442) scale(0.92 1)">VCC</text>
<text x="0" y="0" style="font-family:&quot;Liberation Serif&quot;" font-size="11" fill="#111" text-anchor="end" font-weight="normal" transform="translate(351 476) scale(0.92 1)">FB</text>
<text x="0" y="0" style="font-family:&quot;Liberation Serif&quot;" font-size="9.5" fill="#333333" text-anchor="middle" font-weight="normal" transform="translate(280 368)">5</text>
<text x="0" y="0" style="font-family:&quot;Liberation Serif&quot;" font-size="9.5" fill="#333333" text-anchor="middle" font-weight="normal" transform="translate(280 402)">6</text>
<text x="0" y="0" style="font-family:&quot;Liberation Serif&quot;" font-size="9.5" fill="#333333" text-anchor="middle" font-weight="normal" transform="translate(280 435)">7</text>
<text x="0" y="0" style="font-family:&quot;Liberation Serif&quot;" font-size="9.5" fill="#333333" text-anchor="middle" font-weight="normal" transform="translate(280 469)">8</text>
<text x="0" y="0" style="font-family:&quot;Liberation Serif&quot;" font-size="9.5" fill="#333333" text-anchor="middle" font-weight="normal" transform="translate(370 368)">4</text>
<text x="0" y="0" style="font-family:&quot;Liberation Serif&quot;" font-size="9.5" fill="#333333" text-anchor="middle" font-weight="normal" transform="translate(370 435)">2</text>
<text x="0" y="0" style="font-family:&quot;Liberation Serif&quot;" font-size="9.5" fill="#333333" text-anchor="middle" font-weight="normal" transform="translate(370 469)">1</text>
<text x="0" y="0" style="font-family:&quot;Liberation Serif&quot;" font-size="16" fill="#1c1c7a" text-anchor="middle" font-weight="normal" transform="translate(242 419) rotate(-90)">U1</text>
<text x="0" y="0" style="font-family:&quot;Liberation Serif&quot;" font-size="16" fill="#1c1c7a" text-anchor="middle" font-weight="normal" transform="translate(259 405) rotate(-90)">BPA8619P</text>
<text x="0" y="0" style="font-family:&quot;Liberation Serif&quot;" font-size="11" fill="#1c1c7a" text-anchor="middle" font-weight="normal" transform="translate(426 104) scale(0.92 1)">R4</text>
<text x="0" y="0" style="font-family:&quot;Liberation Serif&quot;" font-size="11" fill="#1c1c7a" text-anchor="middle" font-weight="normal" transform="translate(418 113) scale(0.92 1)">100K 2W</text>
<text x="0" y="0" style="font-family:&quot;Liberation Serif&quot;" font-size="11" fill="#1c1c7a" text-anchor="start" font-weight="normal" transform="translate(495 104) scale(0.92 1)">C2</text>
<text x="0" y="0" style="font-family:&quot;Liberation Serif&quot;" font-size="11" fill="#1c1c7a" text-anchor="start" font-weight="normal" transform="translate(491 113) scale(0.92 1)">102/1KV</text>
<text x="0" y="0" style="font-family:&quot;Liberation Serif&quot;" font-size="11" fill="#1c1c7a" text-anchor="start" font-weight="normal" transform="translate(490 148) scale(0.92 1)">D1</text>
<text x="0" y="0" style="font-family:&quot;Liberation Serif&quot;" font-size="11" fill="#1c1c7a" text-anchor="start" font-weight="normal" transform="translate(490 158) scale(0.92 1)">FR107</text>
<text x="0" y="0" style="font-family:&quot;Liberation Serif&quot;" font-size="11" fill="#1c1c7a" text-anchor="middle" font-weight="normal" transform="translate(448 201) scale(0.92 1)">R5</text>
<text x="0" y="0" style="font-family:&quot;Liberation Serif&quot;" font-size="11" fill="#1c1c7a" text-anchor="middle" font-weight="normal" transform="translate(454 209.8) scale(0.92 1)">10R/1206</text>
<text x="0" y="0" style="font-family:&quot;Liberation Serif&quot;" font-size="11" fill="#1c1c7a" text-anchor="middle" font-weight="normal" transform="translate(511 201) scale(0.92 1)">C4</text>
<text x="0" y="0" style="font-family:&quot;Liberation Serif&quot;" font-size="11" fill="#1c1c7a" text-anchor="middle" font-weight="normal" transform="translate(515 209.8) scale(0.92 1)">471M250V</text>
<text x="0" y="0" style="font-family:&quot;Liberation Serif&quot;" font-size="11" fill="#1c1c7a" text-anchor="middle" font-weight="normal" transform="translate(484 254) scale(0.92 1)">D2</text>
<text x="0" y="0" style="font-family:&quot;Liberation Serif&quot;" font-size="11" fill="#1c1c7a" text-anchor="middle" font-weight="normal" transform="translate(487 268) scale(0.92 1)">RS1M</text>
<text x="0" y="0" style="font-family:&quot;Liberation Serif&quot;" font-size="11" fill="#1c1c7a" text-anchor="middle" font-weight="normal" transform="translate(513 319) scale(0.92 1)">E5</text>
<text x="0" y="0" style="font-family:&quot;Liberation Serif&quot;" font-size="11" fill="#1c1c7a" text-anchor="middle" font-weight="normal" transform="translate(520 330) scale(0.92 1)">10uF/50V</text>
<text x="0" y="0" style="font-family:&quot;Liberation Serif&quot;" font-size="11" fill="#1c1c7a" text-anchor="middle" font-weight="normal" transform="translate(409 294) rotate(-90) scale(0.92 1)">R6</text>
<text x="0" y="0" style="font-family:&quot;Liberation Serif&quot;" font-size="11" fill="#1c1c7a" text-anchor="middle" font-weight="normal" transform="translate(428 300) rotate(-90) scale(0.92 1)">100R/0805</text>
<text x="0" y="0" style="font-family:&quot;Liberation Serif&quot;" font-size="11" fill="#1c1c7a" text-anchor="start" font-weight="normal" transform="translate(392.7 391) scale(0.92 1)">ZD1</text>
<text x="0" y="0" style="font-family:&quot;Liberation Serif&quot;" font-size="11" fill="#1c1c7a" text-anchor="start" font-weight="normal" transform="translate(392.7 402) scale(0.92 1)">NC</text>
<text x="0" y="0" style="font-family:&quot;Liberation Serif&quot;" font-size="11" fill="#1c1c7a" text-anchor="start" font-weight="normal" transform="translate(486 377) scale(0.92 1)">R7</text>
<text x="0" y="0" style="font-family:&quot;Liberation Serif&quot;" font-size="11" fill="#1c1c7a" text-anchor="start" font-weight="normal" transform="translate(475 390) scale(0.92 1)">15K/0805</text>
<text x="0" y="0" style="font-family:&quot;Liberation Serif&quot;" font-size="11" fill="#1c1c7a" text-anchor="start" font-weight="normal" transform="translate(409.5 511) scale(0.92 1)">C5</text>
<text x="0" y="0" style="font-family:&quot;Liberation Serif&quot;" font-size="11" fill="#1c1c7a" text-anchor="start" font-weight="normal" transform="translate(398 523) scale(0.92 1)">104/50V</text>
<text x="0" y="0" style="font-family:&quot;Liberation Serif&quot;" font-size="14" fill="#1c1c7a" text-anchor="start" font-weight="normal" transform="translate(504 507)">U2B</text>
<text x="0" y="0" style="font-family:&quot;Liberation Serif&quot;" font-size="14" fill="#1c1c7a" text-anchor="start" font-weight="normal" transform="translate(504 522.5)">PC817C</text>
<text x="0" y="0" style="font-family:&quot;Liberation Serif&quot;" font-size="16" fill="#1c1c7a" text-anchor="middle" font-weight="normal" transform="translate(613 373)">T1</text>
<text x="0" y="0" style="font-family:&quot;Liberation Serif&quot;" font-size="16" fill="#1c1c7a" text-anchor="middle" font-weight="normal" transform="translate(613 389)">PQ2020</text>
<text x="0" y="0" style="font-family:&quot;Liberation Serif&quot;" font-size="11" fill="#8b1a1a" text-anchor="middle" font-weight="normal" transform="translate(565 373) scale(0.92 1)">PGND</text>
<text x="0" y="0" style="font-family:&quot;Liberation Serif&quot;" font-size="11" fill="#333333" text-anchor="middle" font-weight="normal" transform="translate(583 93) scale(0.92 1)">1</text>
<text x="0" y="0" style="font-family:&quot;Liberation Serif&quot;" font-size="11" fill="#333333" text-anchor="middle" font-weight="normal" transform="translate(583 228) scale(0.92 1)">3</text>
<text x="0" y="0" style="font-family:&quot;Liberation Serif&quot;" font-size="11" fill="#333333" text-anchor="middle" font-weight="normal" transform="translate(583 274) scale(0.92 1)">5</text>
<text x="0" y="0" style="font-family:&quot;Liberation Serif&quot;" font-size="11" fill="#333333" text-anchor="middle" font-weight="normal" transform="translate(583 339.5) scale(0.92 1)">6</text>
<text x="0" y="0" style="font-family:&quot;Liberation Serif&quot;" font-size="11" fill="#333333" text-anchor="middle" font-weight="normal" transform="translate(647 93) scale(0.92 1)">10</text>
<text x="0" y="0" style="font-family:&quot;Liberation Serif&quot;" font-size="11" fill="#333333" text-anchor="middle" font-weight="normal" transform="translate(645 227) scale(0.92 1)">8</text>
<text x="0" y="0" style="font-family:&quot;Liberation Serif&quot;" font-size="11" fill="#1c1c7a" text-anchor="middle" font-weight="normal" transform="translate(537 28) scale(0.92 1)">222/400V</text>
<text x="0" y="0" style="font-family:&quot;Liberation Serif&quot;" font-size="11" fill="#1c1c7a" text-anchor="middle" font-weight="normal" transform="translate(530 42) scale(0.92 1)">CY1</text>
<text x="0" y="0" style="font-family:&quot;Liberation Serif&quot;" font-size="11" fill="#1c1c7a" text-anchor="middle" font-weight="normal" transform="translate(625 32) scale(0.92 1)">222/400V</text>
<text x="0" y="0" style="font-family:&quot;Liberation Serif&quot;" font-size="11" fill="#1c1c7a" text-anchor="middle" font-weight="normal" transform="translate(623 41.3) scale(0.92 1)">CY2</text>
<text x="0" y="0" style="font-family:&quot;Liberation Serif&quot;" font-size="11" fill="#8b1a1a" text-anchor="middle" font-weight="normal" transform="translate(701.5 47.5) scale(0.92 1)">GND1</text>
<text x="0" y="0" style="font-family:&quot;Liberation Serif&quot;" font-size="11" fill="#1c1c7a" text-anchor="middle" font-weight="normal" transform="translate(665 54) scale(0.92 1)">C6</text>
<text x="0" y="0" style="font-family:&quot;Liberation Serif&quot;" font-size="11" fill="#1c1c7a" text-anchor="middle" font-weight="normal" transform="translate(660 62) scale(0.92 1)">471M250V</text>
<text x="0" y="0" style="font-family:&quot;Liberation Serif&quot;" font-size="11" fill="#1c1c7a" text-anchor="middle" font-weight="normal" transform="translate(770 46) scale(0.92 1)">10R/1206</text>
<text x="0" y="0" style="font-family:&quot;Liberation Serif&quot;" font-size="11" fill="#1c1c7a" text-anchor="middle" font-weight="normal" transform="translate(762 59) scale(0.92 1)">R8</text>
<text x="0" y="0" style="font-family:&quot;Liberation Serif&quot;" font-size="11" fill="#1c1c7a" text-anchor="middle" font-weight="normal" transform="translate(745 89) scale(0.92 1)">D4</text>
<text x="0" y="0" style="font-family:&quot;Liberation Serif&quot;" font-size="11" fill="#1c1c7a" text-anchor="middle" font-weight="normal" transform="translate(740 114) scale(0.92 1)">SF56</text>
<text x="0" y="0" style="font-family:&quot;Liberation Sans&quot;" font-size="11.5" fill="#ee11ee" text-anchor="start" font-weight="normal" transform="translate(853 78.5)" textLength="46.5" lengthAdjust="spacingAndGlyphs" stroke="#ee11ee" stroke-width="0.3">24V/0.&#160;8A</text>
<text x="0" y="0" style="font-family:&quot;Liberation Serif&quot;" font-size="12" fill="#1c1c7a" text-anchor="middle" font-weight="normal" transform="translate(884 113)">Vo</text>
<text x="0" y="0" style="font-family:&quot;Liberation Serif&quot;" font-size="11" fill="#1c1c7a" text-anchor="middle" font-weight="normal" transform="translate(740 175) scale(0.92 1)">E3</text>
<text x="0" y="0" style="font-family:&quot;Liberation Serif&quot;" font-size="11" fill="#1c1c7a" text-anchor="middle" font-weight="normal" transform="translate(733 183) scale(0.92 1)">470uF35V</text>
<text x="0" y="0" style="font-family:&quot;Liberation Serif&quot;" font-size="11" fill="#1c1c7a" text-anchor="middle" font-weight="normal" transform="translate(846 167) rotate(-90) scale(0.92 1)">E4</text>
<text x="0" y="0" style="font-family:&quot;Liberation Serif&quot;" font-size="11" fill="#1c1c7a" text-anchor="middle" font-weight="normal" transform="translate(860 165) rotate(-90) scale(0.92 1)">470uF35V</text>
<text x="0" y="0" style="font-family:&quot;Liberation Serif&quot;" font-size="12" fill="#1c1c7a" text-anchor="middle" font-weight="normal" transform="translate(885 245)">GND</text>
<text x="0" y="0" style="font-family:&quot;Liberation Serif&quot;" font-size="11" fill="#8b1a1a" text-anchor="middle" font-weight="normal" transform="translate(671 261) scale(0.92 1)">GND1</text>
<text x="0" y="0" style="font-family:&quot;Liberation Serif&quot;" font-size="11" fill="#1c1c7a" text-anchor="middle" font-weight="normal" transform="translate(705 275) scale(0.92 1)">R14</text>
<text x="0" y="0" style="font-family:&quot;Liberation Serif&quot;" font-size="11" fill="#1c1c7a" text-anchor="middle" font-weight="normal" transform="translate(698 283) scale(0.92 1)">750R/0805</text>
<text x="0" y="0" style="font-family:&quot;Liberation Serif&quot;" font-size="11" fill="#1c1c7a" text-anchor="middle" font-weight="normal" transform="translate(802 275) scale(0.92 1)">C16</text>
<text x="0" y="0" style="font-family:&quot;Liberation Serif&quot;" font-size="11" fill="#1c1c7a" text-anchor="middle" font-weight="normal" transform="translate(802 284) scale(0.92 1)">104/50V</text>
<text x="0" y="0" style="font-family:&quot;Liberation Serif&quot;" font-size="11" fill="#1c1c7a" text-anchor="middle" font-weight="normal" transform="translate(798 377) scale(0.92 1)">R16</text>
<text x="0" y="0" style="font-family:&quot;Liberation Serif&quot;" font-size="11" fill="#1c1c7a" text-anchor="middle" font-weight="normal" transform="translate(805 386) scale(0.92 1)">2k/0805</text>
<text x="0" y="0" style="font-family:&quot;Liberation Serif&quot;" font-size="14.3" fill="#1c1c7a" text-anchor="middle" font-weight="normal" transform="translate(697 383)">U2A</text>
<text x="0" y="0" style="font-family:&quot;Liberation Serif&quot;" font-size="14.3" fill="#1c1c7a" text-anchor="middle" font-weight="normal" transform="translate(690.4 400)">PC817C</text>
<text x="0" y="0" style="font-family:&quot;Liberation Serif&quot;" font-size="11" fill="#1c1c7a" text-anchor="middle" font-weight="normal" transform="translate(830 413) scale(0.92 1)">C17</text>
<text x="0" y="0" style="font-family:&quot;Liberation Serif&quot;" font-size="11" fill="#1c1c7a" text-anchor="middle" font-weight="normal" transform="translate(827 422) scale(0.92 1)">104/50V</text>
<text x="0" y="0" style="font-family:&quot;Liberation Serif&quot;" font-size="11" fill="#1c1c7a" text-anchor="middle" font-weight="normal" transform="translate(888 413) scale(0.92 1)">R17</text>
<text x="0" y="0" style="font-family:&quot;Liberation Serif&quot;" font-size="11" fill="#1c1c7a" text-anchor="middle" font-weight="normal" transform="translate(888 426) scale(0.92 1)">1k/0805</text>
<text x="0" y="0" style="font-family:&quot;Liberation Serif&quot;" font-size="11" fill="#1c1c7a" text-anchor="middle" font-weight="normal" transform="translate(954 409) scale(0.92 1)">R15</text>
<text x="0" y="0" style="font-family:&quot;Liberation Serif&quot;" font-size="11" fill="#1c1c7a" text-anchor="middle" font-weight="normal" transform="translate(968 418) scale(0.92 1)">82k-F/0805</text>
<text x="0" y="0" style="font-family:&quot;Liberation Serif&quot;" font-size="11" fill="#333333" text-anchor="middle" font-weight="normal" transform="translate(803 469) scale(0.92 1)">1</text>
<text x="0" y="0" style="font-family:&quot;Liberation Serif&quot;" font-size="11" fill="#1c1c7a" text-anchor="middle" font-weight="normal" transform="translate(807 484) scale(0.92 1)">IC3</text>
<text x="0" y="0" style="font-family:&quot;Liberation Serif&quot;" font-size="11" fill="#1c1c7a" text-anchor="middle" font-weight="normal" transform="translate(820 497) scale(0.92 1)">TL431K-T-03</text>
<text x="0" y="0" style="font-family:&quot;Liberation Serif&quot;" font-size="11" fill="#1c1c7a" text-anchor="middle" font-weight="normal" transform="translate(962 488) scale(0.92 1)">R18</text>
<text x="0" y="0" style="font-family:&quot;Liberation Serif&quot;" font-size="11" fill="#1c1c7a" text-anchor="middle" font-weight="normal" transform="translate(973 501) scale(0.92 1)">9.53k-F/0805</text>
<text x="0" y="0" style="font-family:&quot;Liberation Serif&quot;" font-size="11" fill="#1c1c7a" text-anchor="middle" font-weight="normal" transform="translate(690 488) scale(0.92 1)">C19</text>
<text x="0" y="0" style="font-family:&quot;Liberation Serif&quot;" font-size="11" fill="#1c1c7a" text-anchor="middle" font-weight="normal" transform="translate(693 501) scale(0.92 1)">2.2uF/50V</text>
<text x="0" y="0" style="font-family:&quot;Liberation Serif&quot;" font-size="11" fill="#8b1a1a" text-anchor="middle" font-weight="normal" transform="translate(734 554) scale(0.92 1)">GND1</text>
<text x="0" y="0" style="font-family:&quot;Liberation Serif&quot;" font-size="8" fill="#333333" text-anchor="middle" font-weight="normal" transform="translate(477 484.6) rotate(-90)">4</text>
<text x="0" y="0" style="font-family:&quot;Liberation Serif&quot;" font-size="7" fill="#333333" text-anchor="middle" font-weight="normal" transform="translate(478 551) rotate(-90)">3</text>
<text x="0" y="0" style="font-family:&quot;Liberation Serif&quot;" font-size="9" fill="#333333" text-anchor="middle" font-weight="normal" transform="translate(732 352) rotate(-90)">1</text>
<text x="0" y="0" style="font-family:&quot;Liberation Serif&quot;" font-size="7" fill="#333333" text-anchor="middle" font-weight="normal" transform="translate(731 419) rotate(-90)">3</text>
<text x="0" y="0" style="font-family:&quot;Liberation Serif&quot;" font-size="8.5" fill="#333333" text-anchor="middle" font-weight="normal" transform="translate(777 448.5) rotate(-90)">2</text>
<text x="0" y="0" style="font-family:&quot;Liberation Serif&quot;" font-size="8.5" fill="#333333" text-anchor="middle" font-weight="normal" transform="translate(777.5 482) rotate(-90)">3</text>
<line x1="731.5" y1="374" x2="736.5" y2="374" stroke="#444" stroke-width="0.9" stroke-linecap="butt"/>
<line x1="734" y1="372" x2="734" y2="376.5" stroke="#444" stroke-width="0.9" stroke-linecap="butt"/>
<line x1="731.5" y1="395.5" x2="736.5" y2="399" stroke="#444" stroke-width="0.9" stroke-linecap="butt"/>
<line x1="731.5" y1="399" x2="736.5" y2="395.5" stroke="#444" stroke-width="0.9" stroke-linecap="butt"/>
<path d="M486,505.5 A2.2,2.2 0 1 0 486,508.5" fill="none" stroke="#555" stroke-width="0.8"/>
</svg>
</body></html>
